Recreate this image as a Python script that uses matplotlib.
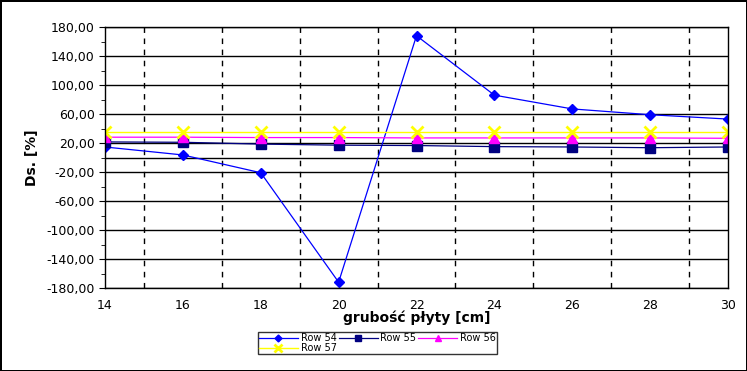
import matplotlib
matplotlib.use("Agg")
import matplotlib.pyplot as plt
from matplotlib.ticker import FuncFormatter, MultipleLocator

x = [14, 16, 18, 20, 22, 24, 26, 28, 30]
row54 = [14.5, 3.5, -21, -172, 168, 86, 67, 59, 53]
row55 = [21.5, 21, 18.5, 17, 16.5, 15, 14.5, 13.5, 14.5]
row56 = [28, 28, 27.5, 27.5, 27, 27, 27, 27, 26.5]
row57 = [35, 35, 35, 35, 35, 35, 35, 35, 35]

fig = plt.figure(figsize=(7.47, 3.71), dpi=100)
fig.patch.set_edgecolor("black")
fig.patch.set_linewidth(2)
ax = fig.add_axes([105/747, 1-288/371, 623/747, 261/371])

l54, = ax.plot(x, row54, color="#0000ff", marker="D", markersize=5, linewidth=0.9, label="Row 54")
l55, = ax.plot(x, row55, color="#000080", marker="s", markersize=7, linewidth=0.9, label="Row 55")
l56, = ax.plot(x, row56, color="#ff00ff", marker="^", markersize=7, linewidth=0.9, label="Row 56")
l57, = ax.plot(x, row57, color="#ffff00", marker="x", markersize=8, mew=2, linewidth=1.0, label="Row 57")

ax.set_xlim(14, 30)
ax.set_ylim(-180, 180)
ax.set_xticks(x)
ax.set_yticks(range(-180, 181, 40))
ax.yaxis.set_minor_locator(MultipleLocator(20))
ax.yaxis.set_major_formatter(FuncFormatter(lambda v, p: f"{v:.2f}".replace(".", ",")))
ax.grid(axis="y", which="major", color="black", linewidth=1)
for xv in range(15, 30, 2):
    ax.axvline(xv, color="black", linestyle=(0, (4, 4)), linewidth=1, zorder=0)
ax.axhline(0, color="black", linewidth=1, zorder=0)
ax.tick_params(axis="both", labelsize=9, color="black", length=4)
ax.tick_params(axis="y", which="minor", length=3)
ax.tick_params(axis="x", length=0, pad=8)
for s in ax.spines.values():
    s.set_linewidth(1)

ax.set_xlabel("grubość płyty [cm]", fontsize=10, fontweight="bold", labelpad=-1)
ax.set_ylabel("Ds. [%]", fontsize=10, fontweight="bold", labelpad=5)

handles = [l54, l57, l55, l56]
leg = fig.legend(handles, [h.get_label() for h in handles], loc="lower left",
                 bbox_to_anchor=(253/747, 1-359/371, 249/747, 21/371),
                 ncol=3, mode="expand", fontsize=7, frameon=True, fancybox=False,
                 borderpad=0.1, labelspacing=0.0, handlelength=4, handletextpad=0.3,
                 columnspacing=1.0, markerscale=0.7)
leg.get_frame().set_edgecolor("black")
leg.get_frame().set_linewidth(1)

fig.savefig("out.png", dpi=100, edgecolor=fig.get_edgecolor())
